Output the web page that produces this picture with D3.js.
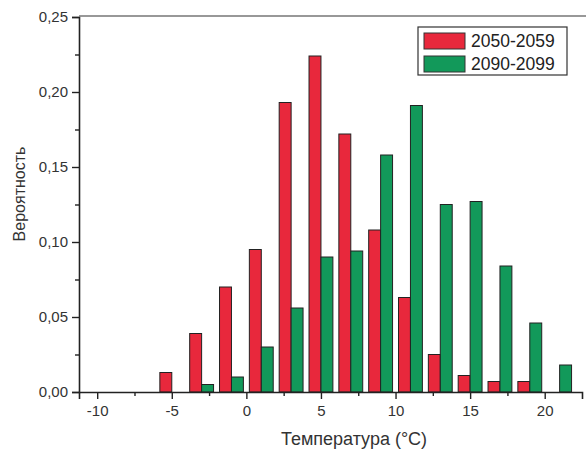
<!DOCTYPE html>
<html><head><meta charset="utf-8">
<script src="https://cdn.jsdelivr.net/npm/d3@7"></script>
<style>body{margin:0;background:#fff}svg{display:block}</style>
</head><body><svg id="c" width="586" height="454"></svg>
<script>
const bins = [-5,-3,-1,1,3,5,7,9,11,13,15,17,19,21];
const series2050 = [0.013,0.039,0.070,0.095,0.193,0.224,0.172,0.108,0.063,0.025,0.011,0.007,0.007,0];
const series2090 = [0,0.005,0.010,0.030,0.056,0.090,0.094,0.158,0.191,0.125,0.127,0.084,0.046,0.018];
const seriesNames = ["2050-2059","2090-2099"];
const xTicks = [-10,-5,0,5,10,15,20];
const yTicks = [0,0.05,0.10,0.15,0.20,0.25];

const colors = ["#e8283c","#12995a"];
const svg = d3.select("#c");
const font = "'Liberation Sans', Arial, sans-serif";
const x = d3.scaleLinear().domain([-11.22,22.5]).range([79,582]);
const y = d3.scaleLinear().domain([0,0.25]).range([392,17]);
const bw = 0.8;

// bars
const series = [series2050, series2090];
series.forEach((vals,si)=>{
  svg.append("g").selectAll("rect").data(bins.map((b,i)=>({b,v:vals[i]})).filter(d=>d.v>0))
    .enter().append("rect")
    .attr("x", d=>x(d.b + (si===0 ? -bw : 0)))
    .attr("width", d=>x(d.b+bw)-x(d.b))
    .attr("y", d=>y(d.v))
    .attr("height", d=>y(0)-y(d.v))
    .attr("fill", colors[si])
    .attr("stroke","#222").attr("stroke-width",1);
});

// axes
const gx = svg.append("g").attr("transform","translate(0,392)")
  .call(d3.axisBottom(x).tickValues(xTicks).tickSize(7).tickPadding(6).tickFormat(d=>String(d)));
const gxm = svg.append("g").attr("transform","translate(0,392)")
  .call(d3.axisBottom(x).tickValues([-7.5,-2.5,2.5,7.5,12.5,17.5]).tickSize(4).tickFormat(""));
const gy = svg.append("g").attr("transform","translate(79,0)")
  .call(d3.axisLeft(y).tickValues(yTicks).tickSize(7).tickPadding(4).tickFormat(d=>d3.format(".2f")(d).replace(".",",")));
const gym = svg.append("g").attr("transform","translate(79,0)")
  .call(d3.axisLeft(y).tickValues([0.025,0.075,0.125,0.175,0.225]).tickSize(4).tickFormat(""));
[gx,gxm,gy,gym].forEach(g=>{
  g.selectAll("path").attr("stroke","#222").attr("stroke-width",1.6);
  g.selectAll("line").attr("stroke","#222").attr("stroke-width",1.4);
  g.selectAll("text").attr("font-family",font).attr("font-size",15).attr("fill","#333");
});
gxm.select("path").remove(); gym.select("path").remove();
// top frame
svg.append("line").attr("x1",79).attr("x2",586).attr("y1",y(0.25)-1).attr("y2",y(0.25)-1)
  .attr("stroke","#333").attr("stroke-width",1.2);

// axis titles
svg.append("text").attr("x",354).attr("y",445).attr("text-anchor","middle")
  .attr("font-family",font).attr("font-size",18).attr("fill","#333").text("Температура (°C)");
svg.append("text").attr("transform","translate(25,194) rotate(-90)").attr("text-anchor","middle")
  .attr("font-family",font).attr("font-size",16).attr("fill","#333").text("Вероятность");

// legend
const lg = svg.append("g");
lg.append("rect").attr("x",418).attr("y",27).attr("width",149).attr("height",48)
  .attr("fill","#fff").attr("stroke","#333").attr("stroke-width",1.2);
seriesNames.forEach((n,i)=>{
  lg.append("rect").attr("x",424).attr("y",33+i*23).attr("width",41).attr("height",16)
    .attr("fill",colors[i]).attr("stroke","#333").attr("stroke-width",1);
  lg.append("text").attr("x",471).attr("y",47+i*23).attr("font-family",font)
    .attr("font-size",17.5).attr("fill","#222").text(n);
});
</script></body></html>
